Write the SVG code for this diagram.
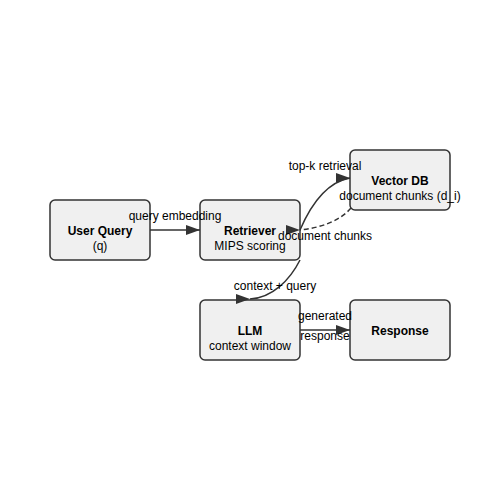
<svg xmlns="http://www.w3.org/2000/svg" width="500" height="500" viewBox="0 0 500 500">
<defs>
<marker id="arr" viewBox="0 0 10 10" refX="10" refY="5" markerWidth="14" markerHeight="10" markerUnits="userSpaceOnUse" orient="auto" preserveAspectRatio="none">
<path d="M0,0 L10,5 L0,10 Z" fill="#333"/>
</marker>
<marker id="arrR" viewBox="0 0 10 10" refX="10" refY="5" markerWidth="14" markerHeight="10" markerUnits="userSpaceOnUse" orient="0" preserveAspectRatio="none">
<path d="M0,0 L10,5 L0,10 Z" fill="#333"/>
</marker>
<style>
.box{fill:#f0f0f0;stroke:#333;stroke-width:1.5}
.t{font-family:"Liberation Sans",Arial,sans-serif;font-size:12px;fill:#000;text-anchor:middle}
.b{font-weight:bold}
.e{fill:none;stroke:#333;stroke-width:1.5}
.d{stroke-dasharray:5,3}
</style>
</defs>
<rect width="500" height="500" fill="#fff"/>
<g id="user-query">
<rect class="box" x="50" y="200" width="100" height="60" rx="5"/>
<text class="t b" x="100" y="235">User Query</text>
<text class="t" x="100" y="250">(q)</text>
</g>
<g id="retriever">
<rect class="box" x="200" y="200" width="100" height="60" rx="5"/>
<text class="t b" x="250" y="235">Retriever</text>
<text class="t" x="250" y="250">MIPS scoring</text>
</g>
<g id="vector-db">
<rect class="box" x="350" y="150" width="100" height="60" rx="5"/>
<text class="t b" x="400" y="185">Vector DB</text>
<text class="t" x="400" y="200">document chunks (d_i)</text>
</g>
<g id="llm">
<rect class="box" x="200" y="300" width="100" height="60" rx="5"/>
<text class="t b" x="250" y="335">LLM</text>
<text class="t" x="250" y="350">context window</text>
</g>
<g id="response">
<rect class="box" x="350" y="300" width="100" height="60" rx="5"/>
<text class="t b" x="400" y="335">Response</text>
</g>
<g id="connectors">
<path class="e" d="M150,230 L200,230" marker-end="url(#arr)"/>
<path class="e" d="M300,230 C312,202 328,182 350,178" marker-end="url(#arrR)"/>
<path class="e d" d="M351,208 C340,221 320,228 300,230" marker-end="url(#arrR)"/>
<path class="e" d="M300,260 C290,280 272,298 250,299" marker-end="url(#arrR)"/>
<path class="e" d="M300,330 L350,330" marker-end="url(#arr)"/>
<text class="t" x="175" y="220">query embedding</text>
<text class="t" x="325" y="170">top-k retrieval</text>
<text class="t" x="325" y="240">document chunks</text>
<text class="t" x="275" y="290">context + query</text>
<text class="t" x="325" y="320">generated</text>
<text class="t" x="325" y="340">response</text>
</g>
</svg>
